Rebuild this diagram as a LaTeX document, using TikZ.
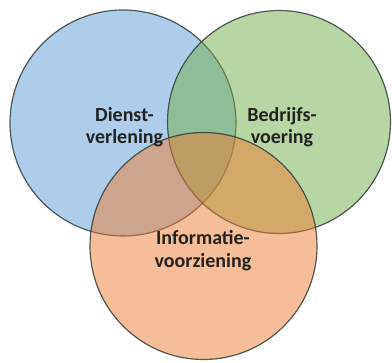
\documentclass[tikz,border=0pt]{standalone}
\usepackage{fontspec}
\setmainfont{Carlito}
\definecolor{vblue}{HTML}{5B9BD5}
\definecolor{vgreen}{HTML}{70AD47}
\definecolor{vorange}{HTML}{ED7D31}
\definecolor{vline}{HTML}{333F3A}
\definecolor{vtext}{HTML}{222222}
\begin{document}
\begin{tikzpicture}[x=1pt,y=-1pt,
  venn/.style={circle, inner sep=0pt, fill opacity=0.5, draw=vline, draw opacity=0.85, line width=1.2pt},
  lbl/.style={align=center, text=vtext, font=\fontsize{20}{22.5}\selectfont\bfseries}]
\useasboundingbox (0,0) rectangle (392,363);
\node[venn, fill=vblue, minimum size=226pt] (dl) at (123,123) {};
\node[venn, fill=vgreen, minimum size=223pt] (bv) at (279,122) {};
\node[venn, fill=vorange, minimum size=227pt] (iv) at (203.5,246) {};
\node[lbl] (tdl) at (124.5,127) {Dienst-\\verlening};
\node[lbl] (tbv) at (282,127) {Bedrijfs-\\voering};
\node[lbl] (tiv) at (203,250.5) {Informatie-\\voorziening};
\end{tikzpicture}
\end{document}
